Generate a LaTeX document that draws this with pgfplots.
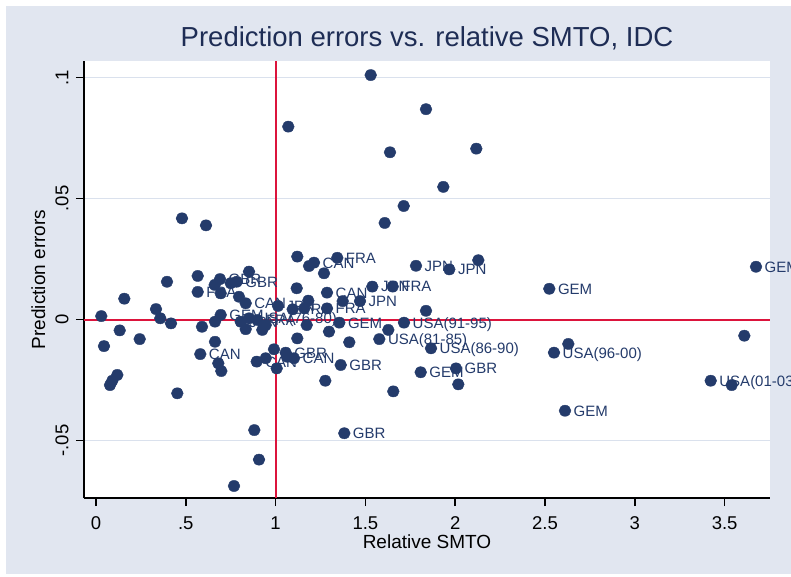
\documentclass[border=0pt]{standalone}
\usepackage{fontspec}
\setmainfont{Liberation Sans}
\usepackage{pgfplots}
\pgfplotsset{compat=1.18}
\usepackage{pgfplotstable}

\definecolor{bgc}{RGB}{225,230,240}
\definecolor{gridc}{RGB}{218,225,237}
\definecolor{navy}{RGB}{36,59,107}
\definecolor{titlec}{RGB}{30,45,85}
\definecolor{redl}{RGB}{220,20,60}

\pgfplotstableread{
x y
1.5295 0.1010
1.0707 0.0797
1.8374 0.0869
1.6370 0.0691
1.7133 0.0469
1.6075 0.0399
0.4788 0.0418
0.6125 0.0389
2.1175 0.0706
1.9338 0.0548
2.1286 0.0245
1.8374 0.0036
1.6275 -0.0043
2.6298 -0.0101
3.6097 -0.0067
2.0173 -0.0268
1.6553 -0.0297
3.5395 -0.0271
0.8814 -0.0457
0.9076 -0.0579
0.7684 -0.0688
0.4527 -0.0305
0.0780 -0.0271
0.0908 -0.0253
0.1186 -0.0229
0.0445 -0.0110
0.1320 -0.0045
0.2433 -0.0081
0.0295 0.0014
0.1576 0.0086
0.3341 0.0043
0.3580 0.0005
0.4176 -0.0016
0.3953 0.0156
0.5663 0.0180
0.5902 -0.0030
0.6626 -0.0092
0.6810 -0.0181
0.6977 -0.0213
0.6626 -0.0009
0.6609 0.0143
0.6943 0.0108
0.7500 0.0150
0.8519 0.0198
0.7962 0.0094
0.8335 -0.0040
0.9260 -0.0043
0.9449 -0.0023
1.1208 -0.0078
1.1732 -0.0023
1.1208 0.0260
1.1860 0.0221
1.2695 0.0191
1.1175 0.0129
1.2973 -0.0050
0.9911 -0.0123
0.9449 -0.0160
1.0061 -0.0202
1.0652 -0.0154
1.1598 0.0046
1.1821 0.0078
1.3736 0.0076
1.4103 -0.0094
1.2767 -0.0253
}\plaindata

\pgfplotstableread{
x y lab
1.7817 0.0222 JPN
1.9672 0.0207 JPN
3.6748 0.0218 GEM
2.5239 0.0127 GEM
1.5384 0.0136 JPN
1.6520 0.0136 FRA
1.7149 -0.0013 USA(91-95)
1.5774 -0.0081 USA(81-85)
1.8653 -0.0119 USA(86-90)
2.5501 -0.0137 USA(96-00)
1.8079 -0.0218 GEM
2.0045 -0.0202 GBR
3.4226 -0.0253 USA(01-03)
2.6114 -0.0377 GEM
1.3825 -0.0470 GBR
1.3625 -0.0188 GBR
1.3547 -0.0013 GEM
1.4699 0.0076 JPN
1.2862 0.0046 FRA
1.2862 0.0111 CAN
1.3435 0.0255 FRA
1.2138 0.0235 CAN
0.5807 -0.0143 CAN
0.5663 0.0114 FRA
0.6904 0.0167 GBR
0.7834 0.0156 GBR
0.8335 0.0067 CAN
1.0134 0.0056 JPN
0.6943 0.0019 GEM
0.8057 -0.0009 JPN
0.8519 0.0005 USA(76-80)
0.8981 -0.0002 FRA
1.0562 -0.0137 GBR
1.1024 -0.0160 CAN
0.8947 -0.0174 CAN
1.0952 0.0042 FRA
}\labdata

\begin{document}
\begin{tikzpicture}
\useasboundingbox (0,0) rectangle (791pt,576pt);
\fill[white] (0,0) rectangle (791pt,576pt);
\fill[bgc] (6pt,2pt) rectangle (791pt,570pt);
\begin{axis}[
  at={(84pt,78pt)}, anchor=south west,
  scale only axis, width=686pt, height=437pt,
  xmin=-0.0668, xmax=3.7528, ymin=-0.07376, ymax=0.10682,
  enlargelimits=false, clip=false,
  axis background/.style={fill=white},
  axis x line=bottom, axis y line=left,
  axis line style={-, black, line width=1.8pt},
  tick align=outside, major tick length=8pt,
  tick style={black, line width=1.5pt},
  xtick={0,0.5,1,1.5,2,2.5,3,3.5},
  xticklabels={0,.5,1,1.5,2,2.5,3,3.5},
  ytick={-0.05,0,0.05,0.1},
  yticklabels={-.05,0,.05,.1},
  tick label style={font=\fontsize{18.5}{18.5}\selectfont, text=black},
  yticklabel style={rotate=90, anchor=base},
  xticklabel style={anchor=base},
  xticklabel shift=23.3pt,
  yticklabel shift=7.7pt,
  ymajorgrids, grid style={gridc, line width=1.8pt},
  title={Prediction errors vs. relative SMTO, IDC},
  title style={at={(axis description cs:0.5,1.019)}, anchor=base,
    font=\fontsize{27.5}{27.5}\selectfont, text=titlec},
  xlabel={Relative SMTO},
  xlabel style={at={(axis description cs:0.5,-0.1151)}, anchor=base,
    font=\fontsize{19}{19}\selectfont, text=black},
  ylabel={Prediction errors},
  ylabel style={at={(axis description cs:-0.0568,0.5)}, anchor=base,
    font=\fontsize{19}{19}\selectfont, text=black},
]
\addplot[color=redl, draw=redl, line width=2pt, no marks] coordinates {(-0.0668,0) (3.7528,0)};
\addplot[color=redl, draw=redl, line width=2pt, no marks] coordinates {(1,-0.07376) (1,0.10682)};
\addplot[only marks, mark=*, mark size=5.6pt, draw=navy, fill=navy,
  mark options={xscale=1.06}] table[x=x,y=y] {\plaindata};
\addplot[only marks, mark=*, mark size=5.6pt, draw=navy, fill=navy,
  mark options={xscale=1.06},
  nodes near coords, point meta=explicit symbolic,
  every node near coord/.append style={anchor=base west, xshift=8.5pt, yshift=-5.4pt,
    inner sep=0pt, font=\fontsize{15}{15}\selectfont, text=navy}]
  table[x=x,y=y,meta=lab] {\labdata};
\end{axis}
\end{tikzpicture}
\end{document}
